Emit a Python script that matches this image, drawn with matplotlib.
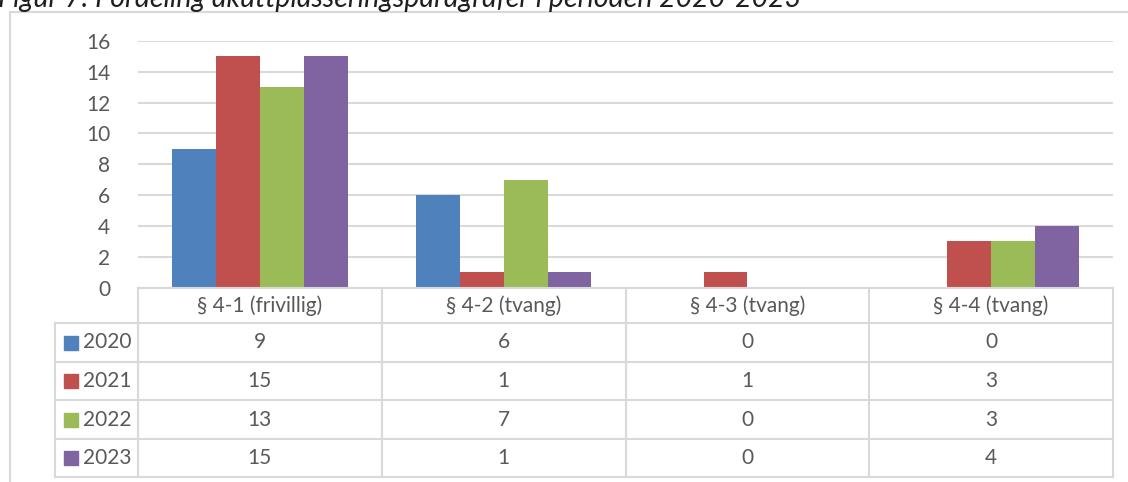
import numpy as np
import matplotlib.pyplot as plt
from matplotlib.patches import Rectangle

plt.rcParams['font.family'] = ['Lato', 'DejaVu Sans']

# data
categories = ['§ 4-1 (frivillig)', '§ 4-2 (tvang)', '§ 4-3 (tvang)', '§ 4-4 (tvang)']
years = ['2020', '2021', '2022', '2023']
v2020 = [9, 6, 0, 0]
v2021 = [15, 1, 1, 3]
v2022 = [13, 7, 0, 3]
v2023 = [15, 1, 0, 4]
series = [v2020, v2021, v2022, v2023]
colors = ['#4F81BD', '#C0504D', '#9BBB59', '#8064A2']
title = 'Figur 7: Fordeling akuttplasseringsparagrafer i perioden 2020-2023'

W, H = 1128, 482
fig = plt.figure(figsize=(W / 100, H / 100), dpi=100)
txt = '#595959'
grid = '#D9D9D9'
fs = 15

# outer frame of the chart (continues past right/bottom edge)
fig.patches.append(Rectangle((10 / W, -0.1), 1.2, 1 - 12 / H + 0.1,
                             transform=fig.transFigure, fill=False,
                             edgecolor=grid, lw=1.5))

# title, cut at the top like the screenshot
fig.text(-2 / W, 1 - 7 / H, title, style='italic', fontsize=20.5,
         color='#1F1F1F', ha='left', va='baseline')

left, right = 138, 1113
top, bottom = 41, 287.5
ax = fig.add_axes([left / W, 1 - bottom / H, (right - left) / W, (bottom - top) / H])

x = np.arange(len(categories))
bw = 0.18
for i, (vals, c) in enumerate(zip(series, colors)):
    ax.bar(x + (i - 1.5) * bw, vals, bw, color=c, zorder=3)

ax.set_xlim(-0.5, 3.5)
ax.set_ylim(0, 16)
ax.set_yticks(range(0, 17, 2))
ax.yaxis.grid(True, color=grid, lw=1.5, zorder=0)
for s in ax.spines.values():
    s.set_visible(False)
ax.tick_params(axis='y', length=0, labelsize=fs, labelcolor=txt, pad=20)
ax.set_xticks([])

# data table below the plot
ttop, tbot = 288, 477
tax = fig.add_axes([left / W, 1 - tbot / H, (right - left) / W, (tbot - ttop) / H])
tax.set_xlim(-0.5, 3.5)
row_h = [35, 39, 38, 39, 38]
edges = np.concatenate([[0], np.cumsum(row_h)])
tax.set_ylim(edges[-1], 0)
tax.axis('off')

legx = -0.5 - (left - 55) / (right - left) * 4
lk = dict(color=grid, lw=1.5, clip_on=False)
# horizontal lines
tax.plot([-0.5, 3.5], [edges[0], edges[0]], **lk)
for e in edges[1:]:
    tax.plot([legx, 3.5], [e, e], **lk)
# vertical lines
for b in np.arange(-0.5, 4, 1):
    tax.plot([b, b], [edges[0], edges[-1]], **lk)
tax.plot([legx, legx], [edges[1], edges[-1]], **lk)

for j, cat in enumerate(categories):
    tax.text(j, (edges[0] + edges[1]) / 2, cat, ha='center', va='center',
             fontsize=fs, color=txt)
for i, (yr, vals, c) in enumerate(zip(years, series, colors)):
    yc = (edges[i + 1] + edges[i + 2]) / 2
    for j, v in enumerate(vals):
        tax.text(j, yc, str(v), ha='center', va='center', fontsize=fs, color=txt)
    sq = 14 / (right - left) * 4
    tax.add_patch(Rectangle((legx + 9 / (right - left) * 4, yc - 7), sq, 14,
                            color=c, clip_on=False))
    tax.text(legx + 28 / (right - left) * 4, yc, yr, ha='left', va='center',
             fontsize=fs, color=txt)

fig.savefig('out.png', dpi=100)
